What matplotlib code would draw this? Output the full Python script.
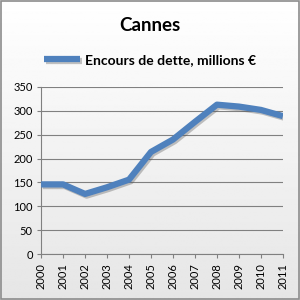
import numpy as np
import matplotlib
matplotlib.use('Agg')
import matplotlib.pyplot as plt
import matplotlib.patheffects as pe

years = ['2000', '2001', '2002', '2003', '2004', '2005', '2006',
         '2007', '2008', '2009', '2010', '2011']
encours = [146, 146, 126, 140, 156, 214, 240, 277, 313, 309, 302, 289]

plt.rcParams['font.family'] = ['Lato', 'DejaVu Sans']

fig = plt.figure(figsize=(3, 3), dpi=100)

# background gradient, white at top to light grey at bottom
bg = fig.add_axes([0, 0, 1, 1], zorder=-10)
grad = np.linspace(1.0, 0.9, 256).reshape(-1, 1)
bg.imshow(grad, aspect='auto', cmap='gray', vmin=0, vmax=1, extent=[0, 1, 0, 1])
bg.set_axis_off()
border = plt.Rectangle((0.002, 0.002), 0.995, 0.995, transform=fig.transFigure,
                       fill=False, ec='#8c8c8c', lw=1.2)
fig.patches.append(border)

ax = fig.add_axes([0.137, 0.153, 0.806, 0.557])
ax.patch.set_alpha(0)
x = np.arange(len(years))
ax.plot(x, encours, color='#4F81BD', lw=4.5, solid_capstyle='butt', zorder=3,
        path_effects=[pe.SimpleLineShadow(offset=(1.2, -1.2), alpha=0.35, shadow_color='#555555'),
                      pe.Normal()])

ax.set_xlim(0, len(years) - 1)
ax.set_ylim(0, 350)
ax.set_yticks(range(0, 351, 50))
ax.set_xticks(x)
ax.set_xticklabels(years, rotation=90)
ax.grid(axis='y', color='#808080', lw=0.8)
ax.set_axisbelow(True)
for s in ['top', 'right']:
    ax.spines[s].set_visible(False)
ax.spines['left'].set_color('#808080')
ax.spines['bottom'].set_color('#808080')
ax.tick_params(axis='both', labelsize=8, color='#808080', length=3)
ax.tick_params(axis='y', length=3, pad=3)

fig.text(0.5, 0.915, 'Cannes', ha='center', va='center', fontsize=13.5, fontweight='bold')
ax.legend(['Encours de dette, millions €'], loc='center', bbox_to_anchor=(0.5, 0.8),
          bbox_transform=fig.transFigure, frameon=False, handlelength=2.6,
          prop={'weight': 'bold', 'size': 10}, handletextpad=0.3)

fig.savefig('out.png', dpi=100)
